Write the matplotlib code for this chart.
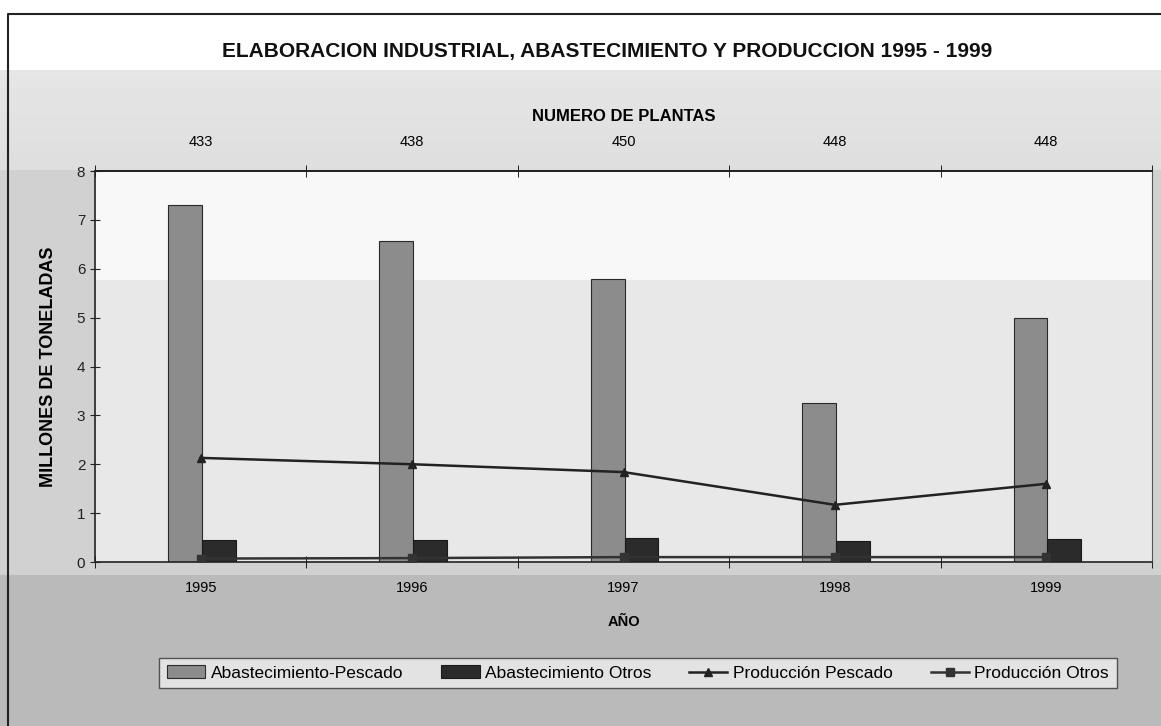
import matplotlib
matplotlib.use("Agg")
import matplotlib.pyplot as plt
import numpy as np

plt.rcParams['font.family'] = ['Liberation Sans', 'DejaVu Sans']

years = ['1995', '1996', '1997', '1998', '1999']
plantas = ['433', '438', '450', '448', '448']
abast_pescado = [7.30, 6.56, 5.79, 3.25, 4.99]
abast_otros = [0.45, 0.45, 0.50, 0.43, 0.47]
prod_pescado = [2.13, 2.00, 1.84, 1.17, 1.60]
prod_otros = [0.07, 0.08, 0.10, 0.10, 0.10]

fig = plt.figure(figsize=(11.61, 7.26), dpi=100)
fig.patch.set_facecolor('white')

# background gradient (figure area)
bg = fig.add_axes([0, 0, 1, 1], zorder=-10)
bg.set_axis_off()
rows = np.arange(726)
vals = np.where(rows < 70, 1.0,
        np.where(rows < 170, 0.90 - 0.03 * (rows - 70) / 100,
        np.where(rows < 575, 0.82, 0.73)))
grad = vals[:, None]
bg.imshow(grad, aspect='auto', cmap='gray', vmin=0, vmax=1, extent=[0, 1, 0, 1], origin='upper')
bg.set_xlim(0, 1); bg.set_ylim(0, 1)
bg.plot([8/1161, 8/1161, 1.0], [0, 1 - 14/726, 1 - 14/726], color='#222222', lw=1.5)

ax = fig.add_axes([95/1161, 1 - 562/726, (1152 - 95)/1161, (562 - 171)/726])
pr = np.arange(100)
pa = np.where(pr < 28, 0.97, 0.91)[:, None]
ax.imshow(pa, aspect='auto', cmap='gray', vmin=0, vmax=1,
          extent=[-0.5, 4.5, 0, 8], origin='upper', zorder=0)

x = np.arange(len(years))
w = 0.16
b1 = ax.bar(x - 0.075, abast_pescado, w, color='#8c8c8c', edgecolor='#2a2a2a', linewidth=0.8,
            label='Abastecimiento-Pescado', zorder=2)
b2 = ax.bar(x + 0.085, abast_otros, w, color='#2b2b2b', edgecolor='#1a1a1a', linewidth=0.8,
            label='Abastecimiento Otros', zorder=2)
l1, = ax.plot(x, prod_pescado, color='#222222', lw=1.8, marker='^', markersize=6,
              label='Producción Pescado', zorder=3)
l2, = ax.plot(x, prod_otros, color='#333333', lw=1.8, marker='s', markersize=6,
              label='Producción Otros', zorder=3)

ax.set_xlim(-0.5, 4.5)
ax.set_ylim(0, 8)
ax.set_yticks(range(0, 9))
ax.tick_params(axis='y', labelsize=11, direction='inout', length=7, colors='#222222')
ax.set_xticks(x)
ax.set_xticklabels(years, fontsize=10.5)
ax.set_xticks(np.arange(-0.5, 5.0, 1.0), minor=True)
ax.tick_params(axis='x', which='major', length=0, pad=14)
ax.tick_params(axis='x', which='minor', direction='inout', length=8)
ax.set_xlabel('AÑO', fontsize=10.5, fontweight='bold', labelpad=14)
ax.set_ylabel('MILLONES DE TONELADAS', fontsize=13, fontweight='bold', labelpad=14)
for s in ['left', 'bottom', 'top']:
    ax.spines[s].set_color('#222222')
    ax.spines[s].set_linewidth(1.2)
ax.spines['right'].set_color('#555555')

top = ax.secondary_xaxis('top')
top.set_xticks(x)
top.set_xticklabels(plantas, fontsize=10.5)
top.set_xticks(np.arange(-0.5, 5.0, 1.0), minor=True)
top.tick_params(axis='x', which='major', length=0, pad=16)
top.tick_params(axis='x', which='minor', direction='inout', length=8)
top.set_xlabel('NUMERO DE PLANTAS', fontsize=12, fontweight='bold', labelpad=10)
top.spines['top'].set_linewidth(1.2)

fig.text(607/1161, 1 - 52/726, 'ELABORACION INDUSTRIAL, ABASTECIMIENTO Y PRODUCCION 1995 - 1999',
         ha='center', va='center', fontsize=15, fontweight='bold', color='#111111')

leg = fig.legend([b1, b2, l1, l2],
                 ['Abastecimiento-Pescado', 'Abastecimiento Otros', 'Producción Pescado', 'Producción Otros'],
                 loc='center', bbox_to_anchor=(638/1161, 1 - 673/726), ncol=4, fontsize=12.5,
                 frameon=True, fancybox=False, edgecolor='#333333', facecolor='#eeeeee',
                 handlelength=2.2, handletextpad=0.3, columnspacing=2.2, borderpad=0.45)
leg.get_frame().set_linewidth(1.0)

fig.savefig('out.png', dpi=100)
